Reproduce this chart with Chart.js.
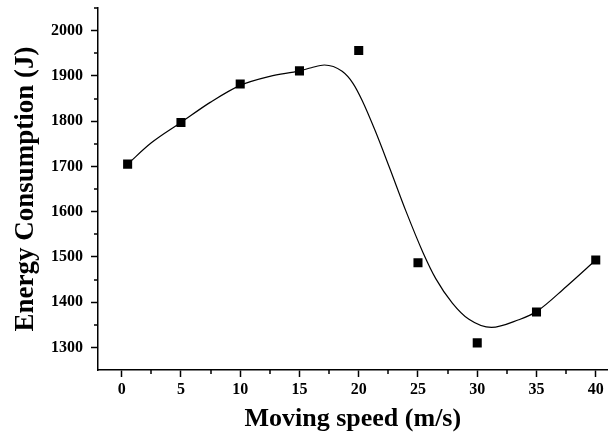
<!DOCTYPE html>
<html>
<head>
<meta charset="utf-8">
<script src="https://cdn.jsdelivr.net/npm/chart.js@4"></script>
<style>
    html, body { margin: 0; padding: 0; background: #ffffff; }
    #wrap { width: 614px; height: 440px; }
</style>
</head>
<body>
<div id="wrap"><canvas id="chart" width="614" height="440"></canvas></div>
<script>
// 측정값 (Moving speed vs Energy)
const speeds = [0.5, 5, 10, 15, 20, 25, 30, 35, 40];
const energy = [1705, 1797, 1882, 1911, 1956, 1487, 1310, 1378, 1493];

// 근사 곡선
const fitX = [0.5, 2.5, 5, 7.5, 10, 12.5, 15, 16, 17.1, 18.6, 19.5, 20.3, 21.4, 22.6, 24, 25.4, 26.5, 27.9, 29.3, 31.2, 33.5, 35, 37.5, 40];
const fitY = [1705, 1752, 1797, 1842, 1879, 1899, 1911, 1918, 1924, 1910, 1884, 1845, 1778, 1697, 1600, 1511, 1452, 1398, 1362, 1344, 1361, 1379, 1434, 1493];

// 눈금
const xTicks = [0, 5, 10, 15, 20, 25, 30, 35, 40];
const xMinor = [2.5, 7.5, 12.5, 17.5, 22.5, 27.5, 32.5, 37.5];
const yTicks = [1300, 1400, 1500, 1600, 1700, 1800, 1900, 2000];
const yMinor = [1350, 1450, 1550, 1650, 1750, 1850, 1950, 2050];

const FONT = "'Liberation Serif', 'Times New Roman', serif";

// 보조 눈금 그리기
const minorTicks = {
    id: 'minorTicks',
    afterDraw(chart) {
        const ctx = chart.ctx;
        const xs = chart.scales.x;
        const ys = chart.scales.y;
        ctx.save();
        ctx.strokeStyle = '#000';
        ctx.lineWidth = 1.5;
        ctx.beginPath();
        xMinor.forEach(v => {
            const px = Math.round(xs.getPixelForValue(v));
            ctx.moveTo(px, xs.top);
            ctx.lineTo(px, xs.top + 4);
        });
        yMinor.forEach(v => {
            const py = Math.round(ys.getPixelForValue(v));
            ctx.moveTo(ys.right, py);
            ctx.lineTo(ys.right - 4, py);
        });
        ctx.stroke();
        ctx.restore();
    }
};

new Chart(document.getElementById('chart'), {
    type: 'scatter',
    data: {
        datasets: [
            {
                label: 'fit',
                data: fitX.map((x, i) => ({ x: x, y: fitY[i] })),
                showLine: true,
                borderColor: '#000',
                borderWidth: 1.2,
                pointRadius: 0,
                cubicInterpolationMode: 'monotone',
                fill: false
            },
            {
                label: 'data',
                data: speeds.map((x, i) => ({ x: x, y: energy[i] })),
                pointStyle: 'rect',
                pointRadius: 6.4,
                backgroundColor: '#000',
                borderColor: '#000',
                borderWidth: 0
            }
        ]
    },
    options: {
        responsive: false,
        animation: false,
        layout: { padding: { top: 8, right: 0, left: 10, bottom: 5 } },
        plugins: {
            legend: { display: false },
            tooltip: { enabled: false }
        },
        scales: {
            x: {
                type: 'linear',
                min: -2,
                max: 41,
                afterBuildTicks: s => { s.ticks = xTicks.map(v => ({ value: v })); },
                afterFit: s => { s.height = 65; s.paddingLeft = 0; s.paddingRight = 0; },
                border: { color: '#000', width: 1.5 },
                grid: { drawOnChartArea: false, drawTicks: true, tickLength: 7, tickColor: '#000', tickWidth: 1.5 },
                ticks: {
                    color: '#000',
                    padding: 3,
                    maxRotation: 0,
                    callback: v => String(v),
                    font: { family: FONT, size: 16, weight: 'bold' }
                },
                title: {
                    display: true,
                    text: 'Moving speed (m/s)',
                    color: '#000',
                    padding: { top: 8, bottom: 0 },
                    font: { family: FONT, size: 26, weight: 'bold' }
                }
            },
            y: {
                type: 'linear',
                min: 1250,
                max: 2050,
                afterBuildTicks: s => { s.ticks = yTicks.map(v => ({ value: v })); },
                afterFit: s => { s.width = 88; s.paddingTop = 0; s.paddingBottom = 0; },
                border: { color: '#000', width: 1.5 },
                grid: { drawOnChartArea: false, drawTicks: true, tickLength: 7, tickColor: '#000', tickWidth: 1.5 },
                ticks: {
                    color: '#000',
                    padding: 8,
                    callback: v => String(v),
                    font: { family: FONT, size: 16, weight: 'bold' }
                },
                title: {
                    display: true,
                    text: 'Energy Consumption (J)',
                    color: '#000',
                    padding: { top: 0, bottom: 4 },
                    font: { family: FONT, size: 27, weight: 'bold' }
                }
            }
        }
    },
    plugins: [minorTicks]
});
</script>
</body>
</html>
